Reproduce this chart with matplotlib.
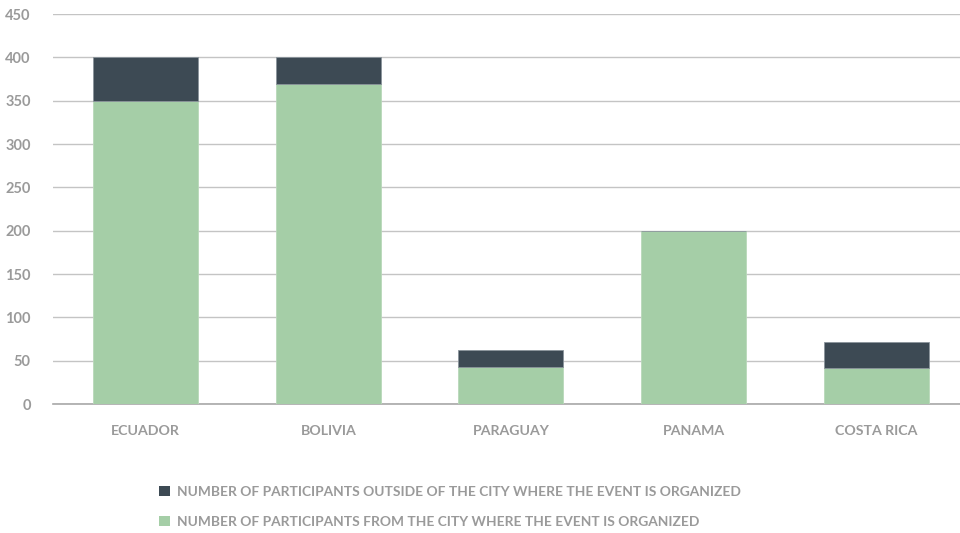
import matplotlib
matplotlib.use('Agg')
from matplotlib import pyplot as plt
from matplotlib.patches import Patch

countries = ['ECUADOR', 'BOLIVIA', 'PARAGUAY', 'PANAMA', 'COSTA RICA']
from_city = [350, 369, 43, 200, 41]
outside_city = [50, 31, 19, 0, 30]
yticks = [0, 50, 100, 150, 200, 250, 300, 350, 400, 450]

label_outside = 'NUMBER OF PARTICIPANTS OUTSIDE OF THE CITY WHERE THE EVENT IS ORGANIZED'
label_from = 'NUMBER OF PARTICIPANTS FROM THE CITY WHERE THE EVENT IS ORGANIZED'

green = '#a5cea7'
dark = '#3d4a54'
textgray = '#9a9a9a'

plt.rcParams['font.family'] = ['Lato', 'DejaVu Sans']

fig = plt.figure(figsize=(9.6, 5.33), dpi=100)
ax = fig.add_axes([0.0552, 0.242, 0.9448, 0.7317])

x = range(len(countries))
ax.bar(x, from_city, width=0.575, color=green, edgecolor='#b8d8b9', linewidth=0.6, zorder=3)
ax.bar(x, outside_city, width=0.575, bottom=from_city, color=dark,
       edgecolor='#8a949b', linewidth=0.6, zorder=3)

ax.set_ylim(0, 450)
ax.set_xlim(-0.508, 4.46)
ax.set_yticks(yticks)
ax.yaxis.grid(True, color='#c4c4c4', linewidth=1.0, zorder=0)
ax.set_axisbelow(True)
ax.set_xticks(list(x))
ax.set_xticklabels(countries)

for s in ['top', 'right', 'left']:
    ax.spines[s].set_visible(False)
ax.spines['bottom'].set_color('#a8a8a8')
ax.spines['bottom'].set_linewidth(1.2)

ax.tick_params(axis='y', length=0, pad=16, labelsize=10.5, labelcolor=textgray)
ax.tick_params(axis='x', length=0, pad=15, labelsize=10.2, labelcolor=textgray)
for lbl in ax.get_xticklabels() + ax.get_yticklabels():
    lbl.set_fontweight('bold')

handles = [Patch(facecolor=dark, label=label_outside),
           Patch(facecolor=green, label=label_from)]
leg = fig.legend(handles=handles, loc='upper left', bbox_to_anchor=(0.166, 0.089),
                 frameon=False, handlelength=0.75, handleheight=0.75,
                 handletextpad=0.55, labelspacing=1.35, fontsize=9.9,
                 borderaxespad=0, borderpad=0)
for t in leg.get_texts():
    t.set_color(textgray)
    t.set_fontweight('bold')

fig.savefig('out.png', dpi=100)
plt.close(fig)
